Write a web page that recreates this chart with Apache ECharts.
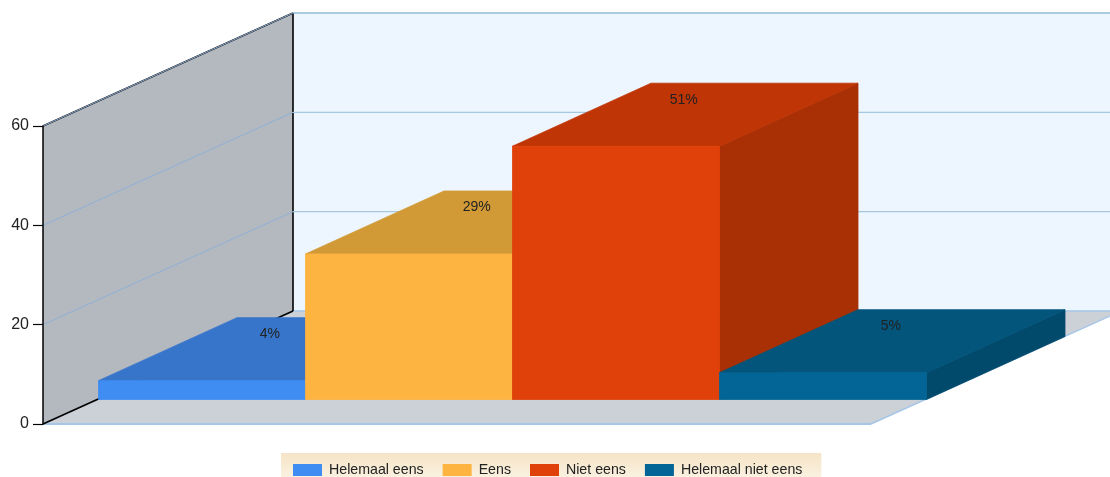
<!DOCTYPE html>
<html>
<head>
<meta charset="utf-8">
<style>html,body{margin:0;padding:0;background:#fff;overflow:hidden}#c{width:1110px;height:477px}</style>
<script src="https://cdn.jsdelivr.net/npm/echarts@6/dist/echarts.min.js"></script>
</head>
<body>
<div id="c"></div>
<script>
const categories = ['Helemaal eens', 'Eens', 'Niet eens', 'Helemaal niet eens'];
const values = [3.8, 29.3, 51, 5.4];
const valueLabels = ['4%', '29%', '51%', '5%'];
const yTicks = [0, 20, 40, 60];
const frontColors = ['#3f8cf2', '#fdb441', '#e04009', '#036595'];
const topColors = ['#3775ca', '#d19a37', '#bf3505', '#03557c'];
const sideColors = ['#2f64ad', '#b08230', '#a93005', '#024a6c'];

const WALL_DEPTH = [250, -113];
const BAR_SHIFT = [55.5, -24.5];
const BAR_DEPTH = [138.5, -63];

function poly(pts, fill, stroke) {
  return {type: 'polygon', shape: {points: pts}, silent: true,
    style: {fill: fill, stroke: stroke || null, lineWidth: stroke ? 0.8 : 0}};
}
function line(a, b, color, width) {
  return {type: 'line', shape: {x1: a[0], y1: a[1], x2: b[0], y2: b[1]},
    style: {stroke: color, lineWidth: width, fill: null}, silent: true};
}
function add(p, d) { return [p[0] + d[0], p[1] + d[1]]; }

function renderWalls(params, api) {
  const cs = params.coordSys;
  const y0 = api.coord([0, 0])[1];
  const yMax = api.coord([0, yTicks[yTicks.length - 1]])[1];
  const left = cs.x, right = cs.x + cs.width;
  const fl = [left, y0], fr = [right, y0], tl = [left, yMax];
  const bl = add(fl, WALL_DEPTH), br = add(fr, WALL_DEPTH), tb = add(tl, WALL_DEPTH), trb = add([right, yMax], WALL_DEPTH);
  return {type: 'group', children: [
    poly([tb, trb, br, bl], '#edf6fe'),
    poly([tl, tb, bl, fl], '#b4b9c0'),
    poly([fl, fr, br, bl], '#ccd1d8'),
    line(fl, fr, '#a6c6e8', 2),
    line(fr, br, '#a6c6e8', 1.5),
    line(bl, br, '#a6c6e8', 1.5),
    line(tb, trb, '#9cc2dc', 1.5),
    line(tl, tb, '#000', 1.8),
    line(fl, bl, '#000', 1.8),
    line(tb, bl, '#000', 1.6)
  ]};
}
function renderGrid(params, api) {
  const cs = params.coordSys;
  const y = api.coord([0, api.value(0)])[1];
  const a = [cs.x, y], b = add(a, WALL_DEPTH), c = add([cs.x + cs.width, y], WALL_DEPTH);
  return {type: 'group', children: [
    line(a, b, '#8fb0d6', 1),
    line(b, c, '#a3c8df', 1.2)
  ]};
}
function renderBar(params, api) {
  const idx = api.value(0), val = api.value(1);
  const c = api.coord([idx, val]), b = api.coord([idx, 0]);
  const w = api.size([1, 0])[0];
  const xl = c[0] - w / 2 + BAR_SHIFT[0], xr = c[0] + w / 2 + BAR_SHIFT[0];
  const yt = c[1] + BAR_SHIFT[1], yb = b[1] + BAR_SHIFT[1];
  const tl = [xl, yt], tr = [xr, yt], bl = [xl, yb], br = [xr, yb];
  const i = Math.round(idx);
  return {type: 'group', children: [
    poly([tr, br, add(br, BAR_DEPTH), add(tr, BAR_DEPTH)], sideColors[i], sideColors[i]),
    poly([tl, tr, add(tr, BAR_DEPTH), add(tl, BAR_DEPTH)], topColors[i], topColors[i]),
    poly([tl, tr, br, bl], frontColors[i], frontColors[i]),
    {type: 'text', silent: true, z2: 100, style: {
      x: (xl + xr) / 2 + BAR_DEPTH[0] / 2 - 1.5, y: yt + BAR_DEPTH[1] * 0.76 + 1.5,
      text: valueLabels[i], align: 'center', verticalAlign: 'middle',
      font: '14px "Liberation Sans", Arial, sans-serif', fill: '#222'
    }}
  ]};
}

const barSeries = categories.map((name, i) => ({
  type: 'custom', name: name, coordinateSystem: 'cartesian2d', z: 2 + i,
  itemStyle: {color: frontColors[i]},
  encode: {x: 0, y: 1},
  renderItem: renderBar,
  data: [[i, values[i]]],
  clip: false
}));

const chart = echarts.init(document.getElementById('c'), null, {renderer: 'canvas', width: 1110, height: 477});
chart.setOption({
  animation: false,
  backgroundColor: '#fff',
  grid: {left: 43, top: 126, width: 828, height: 298},
  xAxis: {type: 'category', data: categories, show: false},
  yAxis: {
    type: 'value', min: 0, max: 60, interval: 20,
    axisLine: {show: true, lineStyle: {color: '#000', width: 1.5}},
    axisTick: {show: true, length: 10, lineStyle: {color: '#000', width: 1.2}},
    axisLabel: {margin: 14, fontSize: 16, color: '#222', padding: [2, 0, 0, 0], fontFamily: '"Liberation Sans", Arial, sans-serif'},
    splitLine: {show: false}, z: 6
  },
  legend: {
    data: categories, left: 281, top: 453, padding: [10, 19, 6, 12],
    itemWidth: 29, itemHeight: 12, itemGap: 19, icon: 'rect', selectedMode: false,
    textStyle: {fontSize: 14.2, color: '#222', fontFamily: '"Liberation Sans", Arial, sans-serif', padding: [0, 0, 0, 2]},
    backgroundColor: new echarts.graphic.LinearGradient(0, 0, 0, 1, [
      {offset: 0, color: '#f5e4c6'}, {offset: 1, color: '#fbf4e6'}
    ])
  },
  series: [
    {type: 'custom', name: 'walls', z: 0, silent: true, clip: false, renderItem: renderWalls, data: [[0]], encode: {y: 0}},
    {type: 'custom', name: 'grid', z: 1, silent: true, clip: false, renderItem: renderGrid, data: yTicks.slice(1).map(v => [v]), encode: {y: 0}}
  ].concat(barSeries)
});
</script>
</body>
</html>
